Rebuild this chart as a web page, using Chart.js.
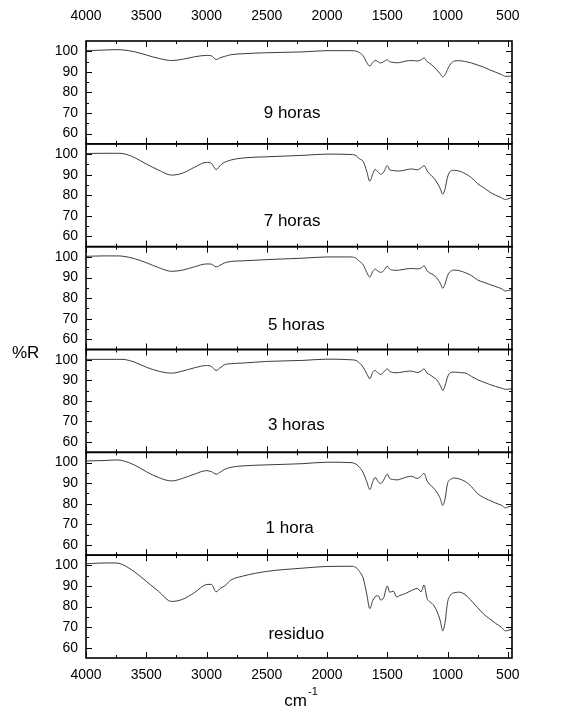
<!DOCTYPE html>
<html lang="es">
<head>
<meta charset="UTF-8">
<title>Espectros %R</title>
<script src="https://cdn.jsdelivr.net/npm/chart.js"></script>
<style>
    html, body { margin: 0; padding: 0; background: #fff; }
    canvas { display: block; }
</style>
</head>
<body>
<canvas id="ftir" width="564" height="716"></canvas>
<script>
    // wavenumber grid (cm-1) shared by all spectra
    const wavenumbers = [4000, 3850, 3750, 3700, 3600, 3500, 3400, 3290, 3200, 3100,
        3000, 2960, 2920, 2880, 2850, 2800, 2700, 2500, 2200, 2000,
        1800, 1760, 1730, 1700, 1670, 1645, 1620, 1600, 1575, 1555,
        1530, 1500, 1480, 1450, 1420, 1400, 1350, 1300, 1250, 1220,
        1195, 1170, 1150, 1120, 1090, 1060, 1040, 1020, 1000, 975,
        940, 900, 850, 800, 750, 700, 650, 600, 550, 520, 500, 465];

    const panelNames = ['9 horas', '7 horas', '5 horas', '3 horas', '1 hora', 'residuo'];

    // %R
    const r9h = [100.3, 100.6, 100.8, 100.7, 99.8, 98.2, 96.6, 95.5, 96.1, 97.3,
        98.0, 97.8, 96.0, 97.0, 97.5, 98.3, 98.8, 99.3, 99.7, 100.3,
        100.3, 100.1, 99.3, 97.8, 94.5, 92.8, 94.6, 95.6, 94.8, 94.3,
        95.0, 95.8, 94.9, 94.6, 94.4, 94.5, 95.2, 95.5, 95.3, 95.8,
        96.8, 95.0, 94.2, 92.8, 91.0, 89.0, 87.6, 88.6, 91.2, 93.8,
        95.3, 95.4, 95.0, 94.3, 93.3, 92.3, 91.0, 89.8, 88.6, 87.8, 87.8, 88.1];
    const r7h = [100.3, 100.4, 100.4, 100.3, 98.4, 95.2, 92.3, 89.8, 90.7, 93.6,
        96.0, 95.5, 92.5, 94.9, 96.0, 97.1, 98.1, 98.7, 99.4, 100.0,
        99.8, 99.3, 97.6, 96.5, 91.5, 86.8, 90.4, 92.6, 91.2, 90.2,
        91.2, 94.4, 92.3, 92.0, 91.8, 91.8, 92.3, 92.8, 92.4, 93.3,
        94.4, 92.0, 90.4, 88.8, 86.4, 83.2, 80.5, 83.2, 88.8, 91.7,
        92.1, 91.7, 90.4, 88.5, 85.6, 83.7, 81.6, 80.0, 78.7, 77.9, 78.2, 78.9];
    const r5h = [100.3, 100.5, 100.5, 100.4, 99.2, 97.2, 94.9, 93.0, 93.6, 95.2,
        96.6, 96.5, 95.2, 96.2, 97.1, 97.8, 98.1, 98.7, 99.4, 100.0,
        100.0, 99.4, 97.8, 96.2, 92.5, 90.2, 93.0, 94.1, 93.0, 92.5,
        93.3, 95.5, 94.1, 93.6, 93.5, 93.6, 94.1, 94.4, 94.2, 94.6,
        95.7, 93.3, 92.3, 91.4, 89.8, 87.2, 84.8, 86.9, 90.9, 93.0,
        93.6, 93.3, 92.3, 90.9, 88.8, 87.7, 86.6, 85.6, 84.5, 83.4, 83.7, 84.0];
    const r3h = [100.2, 100.2, 100.2, 100.2, 98.9, 96.4, 94.5, 93.5, 94.5, 96.1,
        97.2, 96.8, 94.8, 96.4, 97.6, 98.1, 98.4, 99.2, 99.7, 100.3,
        100.0, 99.7, 98.4, 96.4, 93.2, 90.8, 94.0, 94.8, 93.5, 92.9,
        94.0, 95.6, 94.3, 93.8, 93.7, 93.8, 94.3, 94.5, 93.8, 94.5,
        95.6, 93.5, 92.9, 91.6, 90.3, 87.5, 85.1, 87.5, 91.6, 93.8,
        94.0, 93.8, 93.5, 91.9, 90.3, 89.1, 88.0, 87.0, 86.2, 85.6, 85.7, 85.9];
    const r1h = [100.8, 101.0, 101.3, 101.0, 98.9, 95.6, 92.8, 91.1, 92.3, 94.4,
        96.1, 95.6, 94.4, 95.6, 96.7, 97.7, 98.4, 98.9, 99.5, 100.2,
        100.0, 99.3, 97.7, 95.1, 90.7, 86.9, 90.7, 92.8, 90.7, 89.8,
        91.5, 94.4, 92.3, 91.8, 91.6, 91.8, 92.8, 93.4, 92.3, 93.4,
        94.8, 91.1, 89.5, 87.9, 85.7, 82.5, 79.2, 82.5, 89.8, 91.8,
        92.5, 92.0, 90.7, 88.2, 84.9, 83.0, 81.6, 80.3, 79.2, 78.0, 78.4, 79.0];
    const rResiduo = [100.8, 101.2, 101.2, 100.5, 97.0, 92.3, 87.5, 82.5, 83.5, 86.8,
        90.7, 90.8, 87.2, 89.1, 90.0, 92.8, 94.8, 97.1, 98.7, 99.5,
        99.6, 99.0, 97.0, 93.9, 86.0, 79.0, 83.0, 84.8, 85.3, 83.2,
        84.3, 90.0, 87.0, 87.5, 84.6, 85.3, 86.3, 87.8, 88.8, 87.2,
        90.5, 84.0, 82.5, 81.0, 78.0, 73.0, 68.2, 72.5, 82.0, 85.6,
        86.8, 87.0, 85.6, 82.7, 79.5, 76.3, 74.0, 71.8, 69.8, 68.2, 68.4, 69.0];

    const panelSeries = [r9h, r7h, r5h, r3h, r1h, rResiduo];

    const xTickValues = [4000, 3500, 3000, 2500, 2000, 1500, 1000, 500];
    const xMinorTicks = [3750, 3250, 2750, 2250, 1750, 1250, 750];
    const yTickValues = [60, 70, 80, 90, 100];
    const yMinorTicks = [65, 75, 85, 95];

    // where the panel names sit, in data units (cm-1, %R)
    const labelX = [2290, 2290, 2255, 2255, 2310, 2255];
    const labelY = [69.7, 67.2, 66.6, 68.2, 67.9, 66.3];

    const FONT = "'Liberation Sans', Arial, sans-serif";
    const X_MIN = 465, X_MAX = 4000;
    const plain = v => String(v);

    const scales = {
        x: {
            type: 'linear', position: 'bottom', min: X_MIN, max: X_MAX, reverse: true,
            afterBuildTicks: s => { s.ticks = xTickValues.map(v => ({ value: v })); },
            afterFit: s => { s.height = 58; },
            grid: { display: false, drawTicks: false }, border: { display: false },
            ticks: { autoSkip: false, maxRotation: 0, padding: 9, color: '#000', callback: plain,
                     font: { family: FONT, size: 14 } }
        },
        x2: {
            type: 'linear', position: 'top', min: X_MIN, max: X_MAX, reverse: true,
            afterBuildTicks: s => { s.ticks = xTickValues.map(v => ({ value: v })); },
            afterFit: s => { s.height = 41; },
            grid: { display: false, drawTicks: false }, border: { display: false },
            ticks: { autoSkip: false, maxRotation: 0, padding: 16, color: '#000', callback: plain,
                     font: { family: FONT, size: 14 } }
        }
    };
    panelNames.forEach((name, i) => {
        scales['y' + i] = {
            type: 'linear', position: 'left', stack: 'panels', stackWeight: 1,
            weight: panelNames.length - i,
            min: 55, max: 105,
            afterBuildTicks: s => { s.ticks = yTickValues.map(v => ({ value: v })); },
            afterFit: s => { s.width = 86; },
            grid: { display: false, drawTicks: false }, border: { display: false },
            ticks: { autoSkip: false, padding: 8, color: '#000', callback: plain,
                     font: { family: FONT, size: 14 } }
        };
    });

    const datasets = panelSeries.map((vals, i) => ({
        label: panelNames[i],
        data: wavenumbers.map((w, k) => ({ x: w, y: vals[k] })),
        yAxisID: 'y' + i,
        xAxisID: 'x',
        borderColor: '#3c3c3c',
        borderWidth: 1,
        pointRadius: 0,
        cubicInterpolationMode: 'monotone',
        fill: false
    }));

    // frames, inward tick marks, panel names and axis titles
    const framePlugin = {
        id: 'frames',
        afterDraw(chart) {
            const ctx = chart.ctx;
            const xs = chart.scales.x;
            const { left, right } = chart.chartArea;
            ctx.save();
            ctx.strokeStyle = '#000';
            ctx.fillStyle = '#000';
            panelNames.forEach((name, i) => {
                const s = chart.scales['y' + i];
                ctx.lineWidth = 1;
                ctx.beginPath();
                yTickValues.concat(yMinorTicks).forEach(v => {
                    const len = yTickValues.includes(v) ? 6 : 3;
                    const y = Math.round(s.getPixelForValue(v)) + 0.5;
                    ctx.moveTo(left, y); ctx.lineTo(left + len, y);
                    ctx.moveTo(right, y); ctx.lineTo(right - len, y);
                });
                xTickValues.concat(xMinorTicks).forEach(w => {
                    const len = xTickValues.includes(w) ? 6 : 3;
                    const x = Math.round(xs.getPixelForValue(w)) + 0.5;
                    ctx.moveTo(x, s.top); ctx.lineTo(x, s.top + len);
                    ctx.moveTo(x, s.bottom); ctx.lineTo(x, s.bottom - len);
                });
                ctx.stroke();
                ctx.lineWidth = 1.6;
                ctx.strokeRect(left, s.top, right - left, s.bottom - s.top);

                ctx.font = '17px ' + FONT;
                ctx.textAlign = 'center';
                ctx.textBaseline = 'middle';
                ctx.fillText(name, xs.getPixelForValue(labelX[i]), s.getPixelForValue(labelY[i]));
            });

            // y title
            ctx.font = '17px ' + FONT;
            ctx.textAlign = 'left';
            ctx.textBaseline = 'middle';
            ctx.fillText('%R', 12, (chart.chartArea.top + chart.chartArea.bottom) / 2 + 4);

            // x title: cm with superscript -1
            const cx = (left + right) / 2;
            ctx.font = '17px ' + FONT;
            ctx.textAlign = 'right';
            ctx.textBaseline = 'alphabetic';
            ctx.fillText('cm', cx + 8, 706);
            ctx.font = '11px ' + FONT;
            ctx.textAlign = 'left';
            ctx.fillText('-1', cx + 9, 695);
            ctx.restore();
        }
    };

    new Chart(document.getElementById('ftir'), {
        type: 'line',
        data: { datasets },
        options: {
            responsive: false,
            animation: false,
            layout: { padding: { left: 0, right: 52, top: 0, bottom: 0 } },
            plugins: { legend: { display: false }, tooltip: { enabled: false } },
            scales
        },
        plugins: [framePlugin]
    });
</script>
</body>
</html>
